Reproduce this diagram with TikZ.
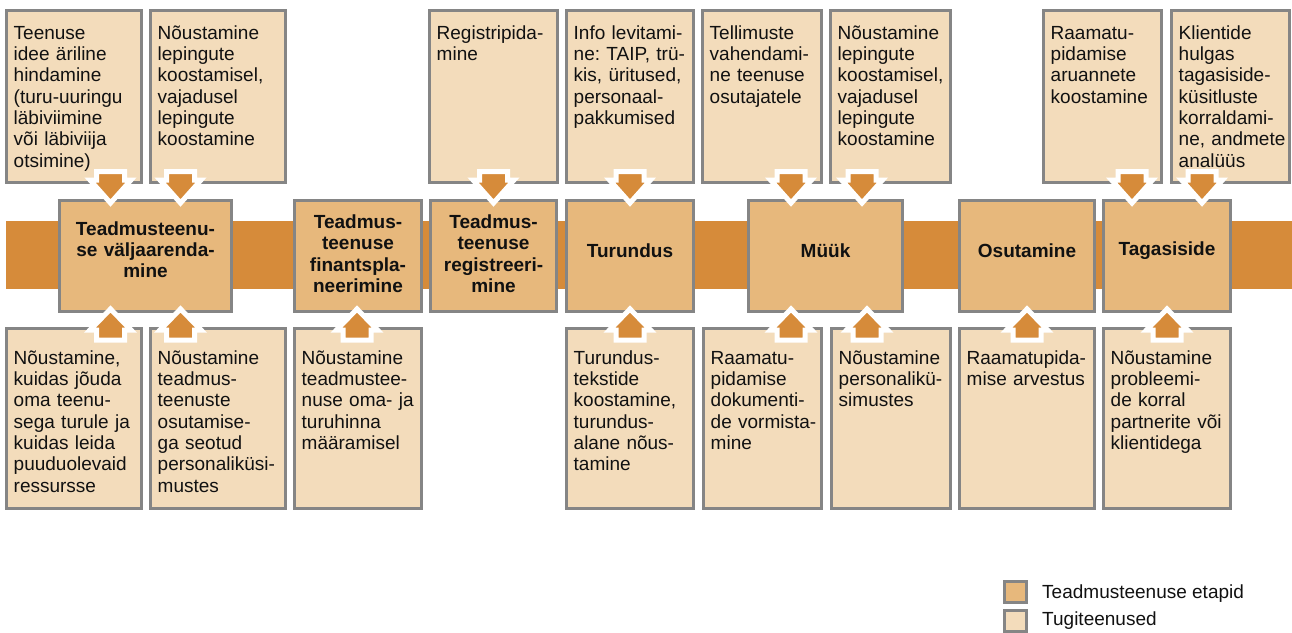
\documentclass[tikz,border=0pt]{standalone}
\usepackage{fontspec}
\setmainfont{Liberation Sans}
\frenchspacing
\definecolor{bandor}{HTML}{D68B3A}
\definecolor{stagefill}{HTML}{E7B87C}
\definecolor{tugifill}{HTML}{F3DCBB}
\definecolor{edgegray}{HTML}{858585}
\definecolor{txtcol}{HTML}{111111}
\newcommand\fnt{\fontsize{19pt}{21.3pt}\selectfont}
\newcommand\hs{\rule{0pt}{15pt}}
\newcommand\mkbox[6]{\node[#6, minimum width={#4-#2-3}, minimum height={#5-#3-3}] (#1) at ({(#2+#4)/2},{(#3+#5)/2}) {};}
\begin{document}
\begin{tikzpicture}[x=1pt,y=-1pt,
  tugi/.style={draw=edgegray, fill=tugifill, line width=3pt, inner sep=0pt, outer sep=0pt, rectangle},
  etapp/.style={draw=edgegray, fill=stagefill, line width=3pt, inner sep=0pt, outer sep=0pt, rectangle},
  tugitxt/.style={anchor=north west, inner sep=0pt, text width=150pt, align=left, font=\fnt, text=txtcol},
  etapptxt/.style={inner sep=0pt, text width=180pt, align=center, font=\fnt\bfseries, text=txtcol},
  legtxt/.style={anchor=base west, inner sep=0pt, font=\fnt, text=txtcol},
  blockarr/.style={draw=white, line width=5pt, fill=bandor, line join=miter},
  downarr/.pic={\path[blockarr] (-14,-29) -- (14,-29) -- (14,-20.5) -- (20.5,-20.5) -- (0,2.5) -- (-20.5,-20.5) -- (-14,-20.5) -- cycle;},
  uparr/.pic={\path[blockarr] (0,-2) -- (20.5,19) -- (14,19) -- (14,29) -- (-14,29) -- (-14,19) -- (-20.5,19) -- cycle;},
]
\useasboundingbox (0,0) rectangle (1292,632);
% band
\fill[bandor] (6,221) rectangle (1292,289);
% stages
\mkbox{S1}{58}{199}{233}{312.5}{etapp}
\mkbox{S2}{293}{199}{423}{312.5}{etapp}
\mkbox{S3}{429}{199}{558}{312.5}{etapp}
\mkbox{S4}{565}{199}{695}{312.5}{etapp}
\mkbox{S5}{747}{199}{904}{312.5}{etapp}
\mkbox{S6}{958}{199}{1096}{312.5}{etapp}
\mkbox{S7}{1102}{199}{1232}{312.5}{etapp}
\node[etapptxt] (S1t) at ([yshift=6pt]S1.center) {Teadmusteenu-\\se väljaarenda-\\mine};
\node[etapptxt] (S2t) at ([yshift=2pt]S2.center) {Teadmus-\\teenuse\\finantspla-\\neerimine};
\node[etapptxt] (S3t) at ([yshift=2pt]S3.center) {Teadmus-\\teenuse\\registreeri-\\mine};
\node[etapptxt] (S4t) at ([yshift=5pt]S4.center) {Turundus};
\node[etapptxt] (S5t) at ([yshift=5pt]S5.center) {Müük};
\node[etapptxt] (S6t) at ([yshift=5pt]S6.center) {Osutamine};
\node[etapptxt] (S7t) at ([yshift=5pt]S7.center) {Tagasiside};
% top support boxes
\mkbox{T1}{5}{9}{143}{184}{tugi}
\mkbox{T2}{149}{9}{287}{184}{tugi}
\mkbox{T3}{428}{9}{559}{184}{tugi}
\mkbox{T4}{565}{9}{695}{184}{tugi}
\mkbox{T5}{701}{9}{823}{184}{tugi}
\mkbox{T6}{829}{9}{952}{184}{tugi}
\mkbox{T7}{1042}{9}{1163}{184}{tugi}
\mkbox{T8}{1170}{9}{1291}{184}{tugi}
\node[tugitxt] (T1t) at ([xshift=7pt,yshift=-13.5pt]T1.north west) {\hs Teenuse\\idee äriline\\hindamine\\(turu-uuringu\\läbiviimine\\või läbiviija\\otsimine)};
\node[tugitxt] (T2t) at ([xshift=7pt,yshift=-13.5pt]T2.north west) {\hs Nõustamine\\lepingute\\koostamisel,\\vajadusel\\lepingute\\koostamine};
\node[tugitxt] (T3t) at ([xshift=7pt,yshift=-13.5pt]T3.north west) {\hs Registripida-\\mine};
\node[tugitxt] (T4t) at ([xshift=7pt,yshift=-13.5pt]T4.north west) {\hs Info levitami-\\ne: TAIP, trü-\\kis, üritused,\\personaal-\\pakkumised};
\node[tugitxt] (T5t) at ([xshift=7pt,yshift=-13.5pt]T5.north west) {\hs Tellimuste\\vahendami-\\ne teenuse\\osutajatele};
\node[tugitxt] (T6t) at ([xshift=7pt,yshift=-13.5pt]T6.north west) {\hs Nõustamine\\lepingute\\koostamisel,\\vajadusel\\lepingute\\koostamine};
\node[tugitxt] (T7t) at ([xshift=7pt,yshift=-13.5pt]T7.north west) {\hs Raamatu-\\pidamise\\aruannete\\koostamine};
\node[tugitxt] (T8t) at ([xshift=7pt,yshift=-13.5pt]T8.north west) {\hs Klientide\\hulgas\\tagasiside-\\küsitluste\\korraldami-\\ne, andmete\\analüüs};
% bottom support boxes
\mkbox{B1}{5}{327}{143}{510}{tugi}
\mkbox{B2}{149}{327}{287}{510}{tugi}
\mkbox{B3}{293}{327}{423}{510}{tugi}
\mkbox{B4}{565}{327}{695}{510}{tugi}
\mkbox{B5}{702}{327}{823}{510}{tugi}
\mkbox{B6}{830}{327}{952}{510}{tugi}
\mkbox{B7}{958}{327}{1096}{510}{tugi}
\mkbox{B8}{1102}{327}{1232}{510}{tugi}
\node[tugitxt] (B1t) at ([xshift=7pt,yshift=-20.5pt]B1.north west) {\hs Nõustamine,\\kuidas jõuda\\oma teenu-\\sega turule ja\\kuidas leida\\puuduolevaid\\ressursse};
\node[tugitxt] (B2t) at ([xshift=7pt,yshift=-20.5pt]B2.north west) {\hs Nõustamine\\teadmus-\\teenuste\\osutamise-\\ga seotud\\personaliküsi-\\mustes};
\node[tugitxt] (B3t) at ([xshift=7pt,yshift=-20.5pt]B3.north west) {\hs Nõustamine\\teadmustee-\\nuse oma- ja\\turuhinna\\määramisel};
\node[tugitxt] (B4t) at ([xshift=7pt,yshift=-20.5pt]B4.north west) {\hs Turundus-\\tekstide\\koostamine,\\turundus-\\alane nõus-\\tamine};
\node[tugitxt] (B5t) at ([xshift=7pt,yshift=-20.5pt]B5.north west) {\hs Raamatu-\\pidamise\\dokumenti-\\de vormista-\\mine};
\node[tugitxt] (B6t) at ([xshift=7pt,yshift=-20.5pt]B6.north west) {\hs Nõustamine\\personalikü-\\simustes};
\node[tugitxt] (B7t) at ([xshift=7pt,yshift=-20.5pt]B7.north west) {\hs Raamatupida-\\mise arvestus};
\node[tugitxt] (B8t) at ([xshift=7pt,yshift=-20.5pt]B8.north west) {\hs Nõustamine\\probleemi-\\de korral\\partnerite või\\klientidega};
% block arrows (support -> stage)
\pic at ([xshift=-35pt]S1.north) {downarr};
\pic at ([xshift=35pt]S1.north) {downarr};
\pic at (S3.north) {downarr};
\pic at (S4.north) {downarr};
\pic at ([xshift=-34.5pt]S5.north) {downarr};
\pic at ([xshift=36.5pt]S5.north) {downarr};
\pic at ([xshift=-35pt]S7.north) {downarr};
\pic at ([xshift=35pt]S7.north) {downarr};
\pic at ([xshift=-35pt]S1.south) {uparr};
\pic at ([xshift=35pt]S1.south) {uparr};
\pic at ([xshift=-1pt]S2.south) {uparr};
\pic at (S4.south) {uparr};
\pic at ([xshift=-34.5pt]S5.south) {uparr};
\pic at ([xshift=41.5pt]S5.south) {uparr};
\pic at (S6.south) {uparr};
\pic at (S7.south) {uparr};
% legend
\mkbox{L1}{1003}{580}{1028}{604}{etapp}
\mkbox{L2}{1003}{609}{1028}{633}{tugi}
\node[legtxt] (L1t) at (1042,598) {Teadmusteenuse etapid};
\node[legtxt] (L2t) at (1042,625) {Tugiteenused};
\end{tikzpicture}
\end{document}
